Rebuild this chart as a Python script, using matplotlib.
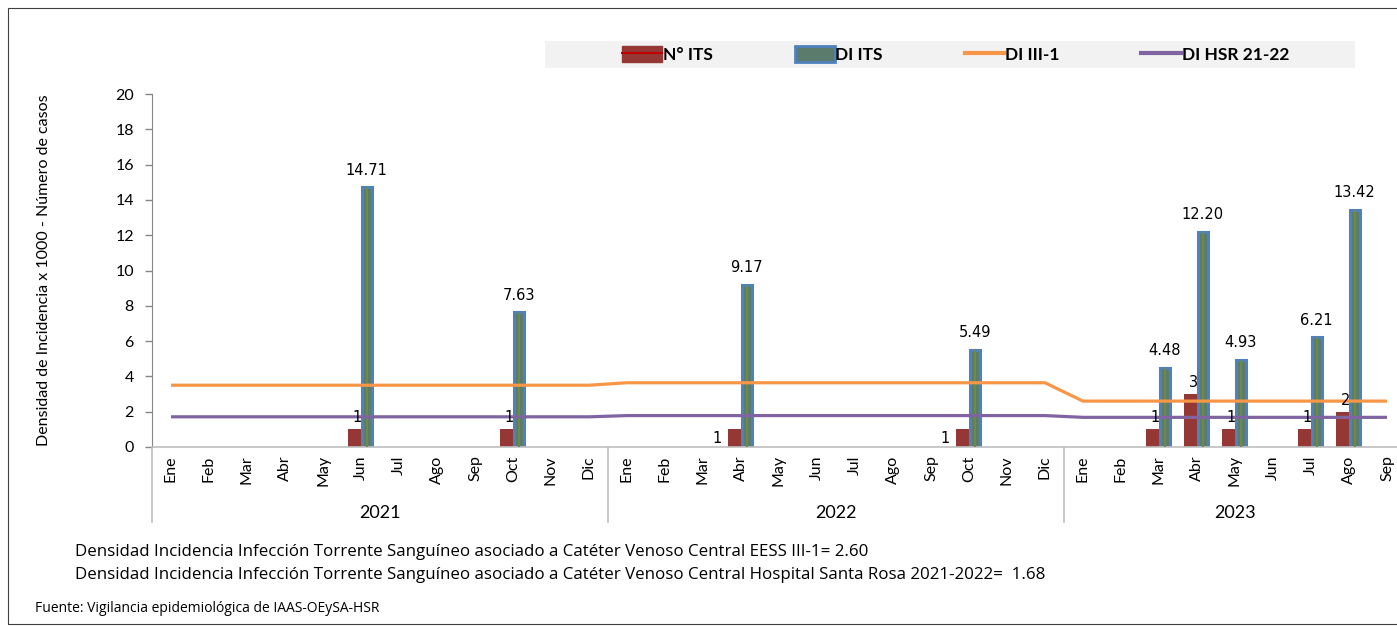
import numpy as np
import matplotlib
matplotlib.use('Agg')
import matplotlib.pyplot as plt
import matplotlib.transforms as mtransforms
from matplotlib.patches import Patch, Rectangle
from matplotlib.lines import Line2D
from matplotlib.legend_handler import HandlerTuple

# datos
years = ['2021', '2022', '2023']
months = ['Ene', 'Feb', 'Mar', 'Abr', 'May', 'Jun', 'Jul', 'Ago', 'Sep', 'Oct', 'Nov', 'Dic']
months_2023 = ['Ene', 'Feb', 'Mar', 'Abr', 'May', 'Jun', 'Jul', 'Ago', 'Sep']

n_its = [0, 0, 0, 0, 0, 1, 0, 0, 0, 1, 0, 0,
         0, 0, 0, 1, 0, 0, 0, 0, 0, 1, 0, 0,
         0, 0, 1, 3, 1, 0, 1, 2, 0]
di_its = [0, 0, 0, 0, 0, 14.71, 0, 0, 0, 7.63, 0, 0,
          0, 0, 0, 9.17, 0, 0, 0, 0, 0, 5.49, 0, 0,
          0, 0, 4.48, 12.20, 4.93, 0, 6.21, 13.42, 0]
di_iii1 = [3.50, 3.50, 3.50, 3.50, 3.50, 3.50, 3.50, 3.50, 3.50, 3.50, 3.50, 3.50,
           3.64, 3.64, 3.64, 3.64, 3.64, 3.64, 3.64, 3.64, 3.64, 3.64, 3.64, 3.64,
           2.60, 2.60, 2.60, 2.60, 2.60, 2.60, 2.60, 2.60, 2.60]
di_hsr = [1.71, 1.71, 1.71, 1.71, 1.71, 1.71, 1.71, 1.71, 1.71, 1.71, 1.71, 1.71,
          1.78, 1.78, 1.78, 1.78, 1.78, 1.78, 1.78, 1.78, 1.78, 1.78, 1.78, 1.78,
          1.68, 1.68, 1.68, 1.68, 1.68, 1.68, 1.68, 1.68, 1.68]

labels = months + months + months_2023
year_len = [12, 12, 9]

W, H = 1397, 628
fig = plt.figure(figsize=(W / 100, H / 100), dpi=100)
fig.patch.set_facecolor('white')

# marco exterior
fig.patches.append(Rectangle((8 / W, 4 / H), 1.2, (H - 12) / H, transform=fig.transFigure,
                             fill=False, edgecolor='#404040', linewidth=0.8))

ncat = len(labels)
x = np.arange(ncat)
left_px, bottom_px, top_px, cat_px = 152, 447, 94, 38
ax = fig.add_axes([left_px / W, 1 - bottom_px / H, ncat * cat_px / W, (bottom_px - top_px) / H])

red = '#953735'
blue = '#4f81bd'
orange = '#f79646'
purple = '#8064a2'

xr = np.array([i for i in x if n_its[i] > 0])
yr = np.array([n_its[i] for i in xr])
xb = np.array([i for i in x if di_its[i] > 0])
yb = np.array([di_its[i] for i in xb])

ax.bar(xr - 0.17, yr, width=0.32, color=red, zorder=2)
ax.bar(xb + 0.15, yb, width=0.27, facecolor='#5b7b6c', edgecolor=blue, linewidth=2.2, zorder=2)
ax.bar(xb + 0.15, yb, width=0.05, color='#6f8a44', zorder=3)

ax.plot(x, di_iii1, color=orange, lw=2.3, zorder=4, solid_capstyle='butt')
ax.plot(x, di_hsr, color=purple, lw=2.3, zorder=4, solid_capstyle='butt')

lab_font = 'DejaVu Sans'
for xi, v in zip(xb, yb):
    ax.annotate('%.2f' % v, (xi + 0.15, v), xytext=(0, 7), textcoords='offset points',
                ha='center', va='bottom', fontsize=10.5, family=lab_font, zorder=6)
for xi, v in zip(xr, yr):
    if 12 <= xi < 24:
        # etiquetas de 2022 quedan a la izquierda de la barra
        ax.annotate('%d' % v, (xi - 0.33, v / 2), xytext=(-5, 0), textcoords='offset points',
                    ha='right', va='center', fontsize=10.5, family=lab_font, zorder=6)
    else:
        ax.annotate('%d' % v, (xi - 0.1, v), xytext=(0, 3), textcoords='offset points',
                    ha='center', va='bottom', fontsize=10.5, family=lab_font, zorder=6)

ax.set_xlim(-0.5, ncat - 0.5)
ax.set_ylim(0, 20)
ax.set_yticks(np.arange(0, 21, 2))
main_font = ['Lato', 'DejaVu Sans']
ax.set_yticklabels([str(v) for v in range(0, 21, 2)], family=main_font, fontsize=11.5)
ax.tick_params(axis='y', length=5, width=1, color='#868686', pad=8)
ax.set_xticks(x)
ax.set_xticklabels(labels, rotation=90, family=main_font, fontsize=11.5, va='top')
ax.tick_params(axis='x', length=0, pad=6)
for s in ['top', 'right']:
    ax.spines[s].set_visible(False)
ax.spines['left'].set_color('#868686')
ax.spines['bottom'].set_color('#bfbfbf')
ax.spines['bottom'].set_linewidth(1.2)
ax.patch.set_alpha(0)

ax.set_ylabel('Densidad de Incidencia x 1000 - Número de casos', family=main_font,
              fontsize=11.5, labelpad=46)

# años y separadores
trans = mtransforms.blended_transform_factory(ax.transData, ax.transAxes)
sep_depth = 75 / (bottom_px - top_px)
start = 0
for yr_lab, n in zip(years, year_len):
    ax.plot([start - 0.5, start - 0.5], [0, -sep_depth], transform=trans, color='#bfbfbf',
            lw=1.2, clip_on=False)
    ax.text(start + n / 2 - 0.5, -66 / (bottom_px - top_px), yr_lab, transform=trans,
            ha='center', va='center', family=main_font, fontsize=13)
    start += n

# leyenda
fig.patches.append(Rectangle((545 / W, 1 - 68 / H), 810 / W, 27 / H, transform=fig.transFigure,
                             facecolor='#f2f2f2', edgecolor='none'))
h1 = (Patch(facecolor=red, edgecolor=red), Line2D([], [], color='#c00000', lw=1.5))
h2 = Patch(facecolor='#5b7b6c', edgecolor=blue, linewidth=2)
h3 = Line2D([], [], color=orange, lw=3)
h4 = Line2D([], [], color=purple, lw=3)
fig.legend([h1, h2, h3, h4], ['N° ITS', 'DI ITS', 'DI III-1', 'DI HSR 21-22'],
           handler_map={tuple: HandlerTuple(ndivide=1, pad=0)},
           loc='center', bbox_to_anchor=(956 / W, 1 - 54.5 / H), ncol=4, frameon=False,
           prop={'family': main_font, 'weight': 'bold', 'size': 12.5},
           handlelength=2.3, handleheight=1.0, handletextpad=0.05, columnspacing=4.7)

# notas
note_font = ['Open Sans', 'DejaVu Sans']
fig.text(75 / W, 1 - 552 / H,
         'Densidad Incidencia Infección Torrente Sanguíneo asociado a Catéter Venoso Central EESS III-1= 2.60',
         family=note_font, fontsize=12.2, va='center')
fig.text(75 / W, 1 - 575 / H,
         'Densidad Incidencia Infección Torrente Sanguíneo asociado a Catéter Venoso Central Hospital Santa Rosa 2021-2022=  1.68',
         family=note_font, fontsize=12.2, va='center')
fig.text(35 / W, 1 - 609 / H, 'Fuente: Vigilancia epidemiológica de IAAS-OEySA-HSR',
         family=note_font, fontsize=10, va='center')

fig.savefig('out.png', dpi=100)
